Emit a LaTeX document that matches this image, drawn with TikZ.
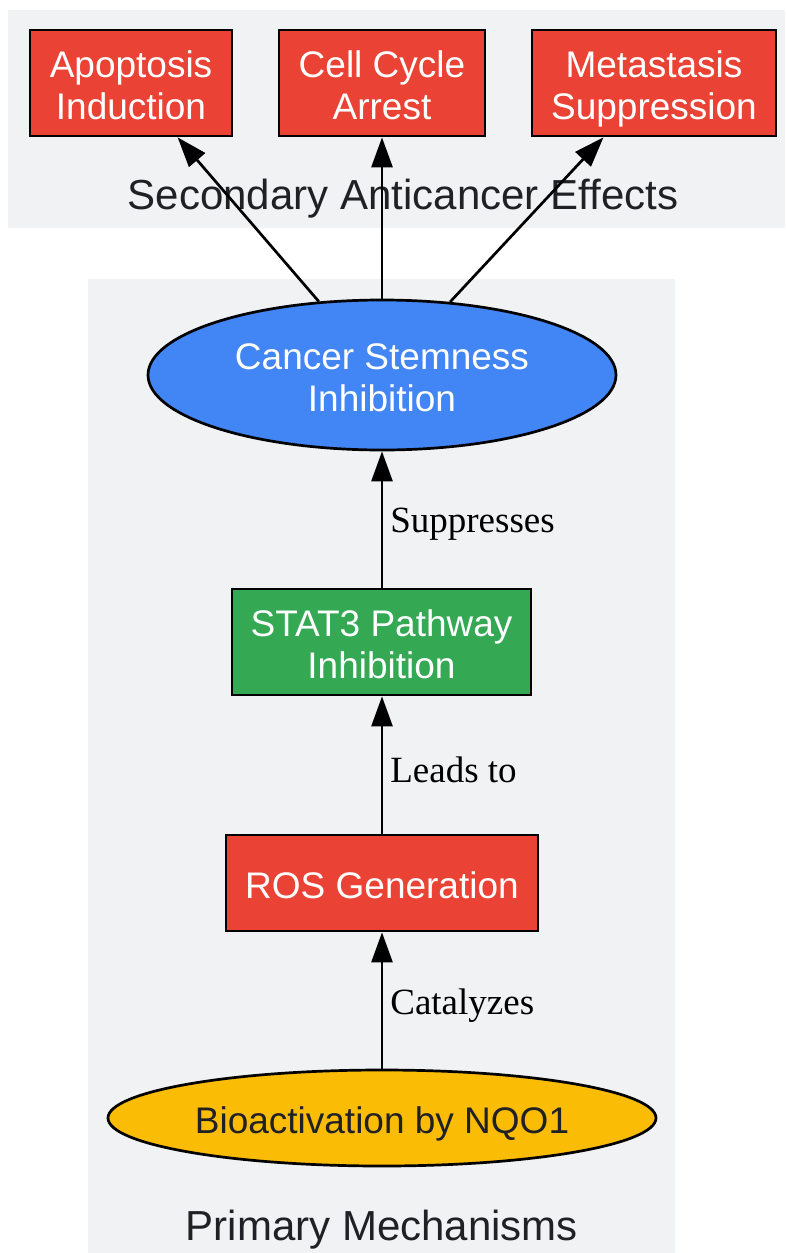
\documentclass[tikz,border=0pt]{standalone}
\usepackage{fontspec}
\setmainfont{Liberation Sans}
\newfontfamily\edgefont{Liberation Serif}
\usetikzlibrary{arrows.meta,shapes.geometric}

\definecolor{clusterbg}{HTML}{F1F2F4}
\definecolor{effectred}{HTML}{EA4335}
\definecolor{stemblue}{HTML}{4285F4}
\definecolor{statgreen}{HTML}{34A853}
\definecolor{nqoyellow}{HTML}{FBBC05}
\definecolor{darktext}{HTML}{202124}

\tikzset{
  nodebox/.style={draw=black, line width=2.7pt, inner sep=0pt, align=center,
    text=white, font=\fontsize{37}{42}\selectfont, text height=31pt, text depth=0pt},
  twoline/.style={text height=73pt, text depth=0pt},
  redbox/.style={nodebox, rectangle, fill=effectred},
  greenbox/.style={nodebox, rectangle, fill=statgreen},
  blueoval/.style={nodebox, ellipse, fill=stemblue},
  yellowoval/.style={nodebox, ellipse, fill=nqoyellow, text=darktext},
  clusterlabel/.style={text=darktext, font=\fontsize{42}{48}\selectfont},
  link/.style={line width=2.7pt, -{Triangle[length=30pt,width=21pt]}},
  linklabel/.style={midway, right=7pt, yshift=-5pt, inner sep=0pt, font=\edgefont\fontsize{37}{42}\selectfont}
}

\begin{document}
\begin{tikzpicture}[x=1pt,y=-1pt]
    \useasboundingbox (0,0) rectangle (785,1253);

    % Cluster backgrounds
    \fill[clusterbg] (8,10) rectangle (785,228);
    \fill[clusterbg] (88,279) rectangle (675,1253);
    \node[clusterlabel] (seclabel) at (403,199) {Secondary Anticancer Effects};
    \node[clusterlabel] (primlabel) at (382,1230) {Primary Mechanisms};

    % Secondary effects
    \node[redbox, twoline, minimum width=202, minimum height=106] (apoptosis) at (131,83) {Apoptosis\\Induction};
    \node[redbox, twoline, minimum width=206, minimum height=106] (cellcycle) at (382,83) {Cell Cycle\\Arrest};
    \node[redbox, twoline, minimum width=244, minimum height=106] (metastasis) at (654,83) {Metastasis\\Suppression};

    % Primary mechanisms
    \node[blueoval, twoline, minimum width=468, minimum height=150] (stemness) at (382,375) {Cancer Stemness\\Inhibition};
    \node[greenbox, twoline, minimum width=299, minimum height=106] (stat) at (381.5,642) {STAT3 Pathway\\Inhibition};
    \node[redbox, minimum width=312, minimum height=96] (ros) at (382,883) {ROS Generation};
    \node[yellowoval, minimum width=548, minimum height=96] (nqo) at (382,1118) {Bioactivation by NQO1};

    % Connectors
    \draw[link] (nqo.north) -- (ros.south) node[linklabel] {Catalyzes};
    \draw[link] (ros.north) -- (stat.south -| ros.north) node[linklabel] {Leads to};
    \draw[link] (stat.north -| ros.north) -- (stemness.south) node[linklabel] {Suppresses};
    \draw[link] (stemness) -- (apoptosis);
    \draw[link] (stemness.north) -- (cellcycle.south);
    \draw[link] (stemness) -- (metastasis);
\end{tikzpicture}
\end{document}
